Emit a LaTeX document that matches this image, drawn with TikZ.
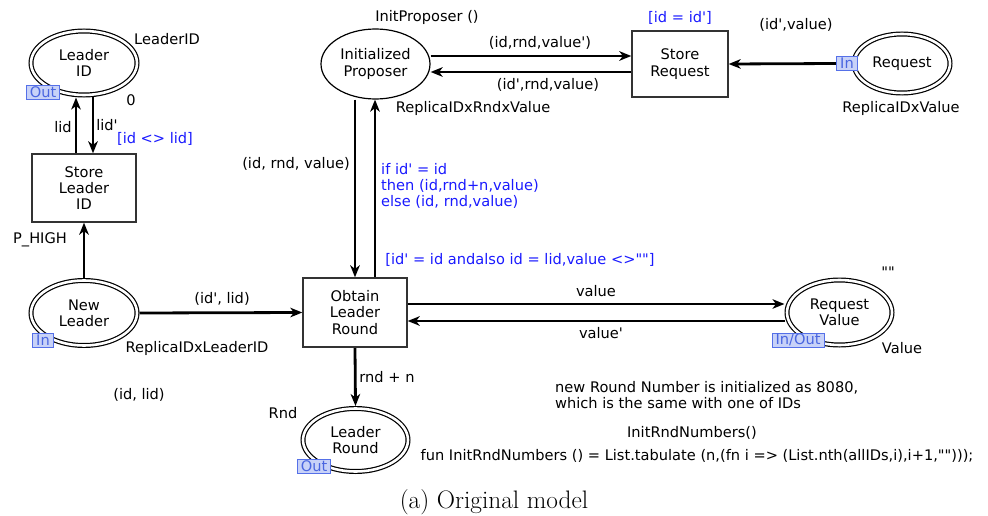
\documentclass[tikz,border=0pt]{standalone}
\usepackage{fontspec}
\newfontfamily\cpnfont[Ligatures=TeXOff]{DejaVu Sans}
\usetikzlibrary{positioning, arrows.meta, backgrounds, shapes.geometric}
\definecolor{transBorder}{HTML}{333333}
\definecolor{guardBlue}{HTML}{1A1AFF}
\definecolor{tagFill}{HTML}{C8D2F8}
\definecolor{tagBorder}{HTML}{5570E8}
\definecolor{tagText}{HTML}{4A66E0}
\tikzset{
  place/.style={ellipse, draw=black, fill=white, line width=1.2pt, inner sep=0pt,
    align=center, font=\cpnfont\fontsize{14.6}{16.4}\selectfont},
  portplace/.style={place, double=white, double distance=2.6pt, outer sep=2.5pt},
  trans/.style={rectangle, draw=transBorder, fill=white, line width=1.3pt,
    minimum width=104pt, minimum height=68pt, inner sep=0pt,
    align=center, font=\cpnfont\fontsize{14.6}{16.4}\selectfont},
  porttag/.style={draw=tagBorder, fill=tagFill, text=tagText, line width=0.8pt,
    inner xsep=3.5pt, inner ysep=0pt, minimum height=14pt,
    font=\cpnfont\fontsize{14.6}{16.4}\selectfont},
  arc/.style={-{Stealth[length=12pt, width=9.5pt, inset=3.5pt]}, line width=2.8pt},
  inscr/.style={inner sep=0pt, text=black, align=left,
    font=\cpnfont\fontsize{14.6}{16.4}\selectfont},
  guard/.style={inscr, text=guardBlue},
}

\begin{document}
\begin{tikzpicture}[x=1pt, y=-1pt]
  \useasboundingbox (0,0) rectangle (988,516);

  % === Places ===
  \node[portplace, minimum width=106pt, minimum height=64pt] (leaderId) at (84,63) {Leader\\ID};
  \node[portplace, minimum width=106pt, minimum height=65pt] (newLeader) at (84,313) {New\\Leader};
  \node[place, minimum width=109pt, minimum height=70pt] (initProp) at (375.5,64) {Initialized\\Proposer};
  \node[portplace, minimum width=96pt, minimum height=59pt] (request) at (902,63.5) {Request};
  \node[portplace, minimum width=105pt, minimum height=65pt] (reqVal) at (839.5,312.5) {Request\\Value};
  \node[portplace, minimum width=105pt, minimum height=63pt] (ldrRound) at (355.5,440) {Leader\\Round};

  % === Transitions ===
  \node[trans] (storeLid) at (84,188) {Store\\Leader\\ID};
  \node[trans, minimum height=69pt] (obtain) at (355,312.5) {Obtain\\Leader\\Round};
  \node[trans, minimum width=96pt, minimum height=66pt] (storeReq) at (680,64) {Store\\Request};

  % === Port tags ===
  \node[porttag] (lidTag) at (43,92) {Out};
  \node[porttag] (nlTag) at (43,340) {In};
  \node[porttag] (reqTag) at (847,63.5) {In};
  \node[porttag] (rvTag) at (798,340) {In/Out};
  \node[porttag] (lrTag) at (314,466) {Out};

  % === Arcs ===
  \begin{scope}[on background layer]
    \draw[arc] ([xshift=-8pt]storeLid.north) -- ([xshift=-8pt]storeLid.north |- leaderId.south);
    \draw[arc] ([xshift=9pt]leaderId.south) -- ([xshift=9pt]leaderId.south |- storeLid.north);
    \draw[arc] (newLeader.north) -- (storeLid.south);
    \draw[arc] (newLeader.east) -- (obtain.west);
    \draw[arc] (initProp.south -| obtain.north) -- (obtain.north);
    \draw[arc] ([xshift=20pt]obtain.north) -- ([xshift=20pt]obtain.north |- initProp.south);
    \draw[arc] ([yshift=8pt]initProp.east) -- ([yshift=8pt]storeReq.west);
    \draw[arc] ([yshift=-8pt]storeReq.west) -- ([yshift=-8pt]initProp.east);
    \draw[arc] (reqTag.west) -- (storeReq.east);
    \draw[arc] ([yshift=8.5pt]obtain.east) -- ([yshift=8.5pt]reqVal.west);
    \draw[arc] ([yshift=-8.5pt]reqVal.west) -- ([yshift=-8.5pt]obtain.east);
    \draw[arc] (obtain.south) -- (ldrRound.north);
  \end{scope}

  % === Colour sets and initial markings ===
  \node[inscr] (lidType) at (167,39) {LeaderID};
  \node[inscr] (lidInit) at (131,100) {0};
  \node[inscr] (nlType) at (197,348) {ReplicaIDxLeaderID};
  \node[inscr] (lrType) at (283,413) {Rnd};
  \node[inscr] (ipInit) at (427,17) {InitProposer ()};
  \node[inscr] (ipType) at (473,108) {ReplicaIDxRndxValue};
  \node[inscr] (reqType) at (901,108) {ReplicaIDxValue};
  \node[inscr] (rvInit) at (888,272) {""};
  \node[inscr] (rvType) at (902,348) {Value};

  % === Arc inscriptions ===
  \node[inscr] (lidUp) at (63,127) {lid};
  \node[inscr] (lidDown) at (107,125) {lid'};
  \node[inscr] (prio) at (40,240) {P\_HIGH};
  \node[inscr] (nlArc) at (222,299) {(id', lid)};
  \node[inscr] (spare) at (139,395) {(id, lid)};
  \node[inscr] (toStore) at (540,43) {(id,rnd,value')};
  \node[inscr] (fromStore) at (548,85) {(id',rnd,value)};
  \node[inscr] (reqArc) at (796,25) {(id',value)};
  \node[inscr] (downArc) at (296,164) {(id, rnd, value)};
  \node[inscr] (valOut) at (596,291) {value};
  \node[inscr] (valIn) at (601,333) {value'};
  \node[inscr] (rndArc) at (387,377) {rnd + n};
  \node[guard, anchor=west] (upArc) at (381,186) {if id' = id\\then (id,rnd+n,value)\\else (id, rnd,value)};

  % === Guards ===
  \node[guard] (lidGuard) at (155,139) {[id <> lid]};
  \node[guard] (reqGuard) at (680,18) {[id = id']};
  \node[guard] (obtGuard) at (520,260) {[id' = id andalso id = lid,value <>""]};

  % === Notes ===
  \node[inscr, anchor=west] (note) at (555,395) {new Round Number is initialized as 8080,\\which is the same with one of IDs};
  \node[inscr] (initFn) at (692,433) {InitRndNumbers()};
  \node[inscr] (funDecl) at (697,456) {fun InitRndNumbers () = List.tabulate (n,(fn i => (List.nth(allIDs,i),i+1,"")));};

  % === Caption ===
  \node[font=\fontsize{25.3}{30}\selectfont, inner sep=0pt] (caption) at (494,502) {(a) Original model};

\end{tikzpicture}
\end{document}
